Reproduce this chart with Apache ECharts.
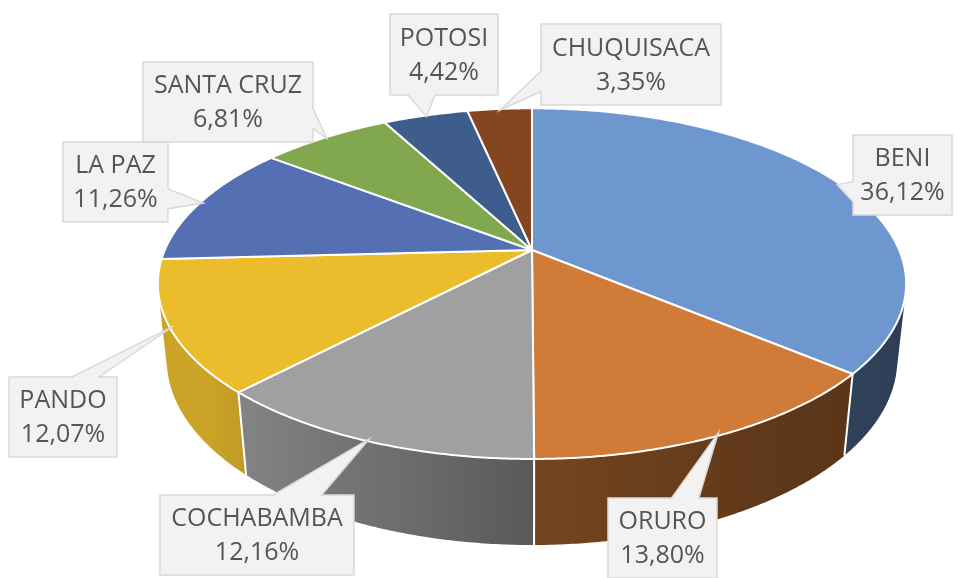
<!DOCTYPE html>
<html><head><meta charset="utf-8">
<script src="https://cdn.jsdelivr.net/npm/echarts@6/dist/echarts.min.js"></script>
<style>html,body{margin:0;padding:0;background:#fff}#c{width:957px;height:578px}</style>
</head><body><div id="c"></div>
<script>
// ---- data ----
const categories = ['BENI', 'ORURO', 'COCHABAMBA', 'PANDO', 'LA PAZ', 'SANTA CRUZ', 'POTOSI', 'CHUQUISACA'];
const values = [36.12, 13.80, 12.16, 12.07, 11.26, 6.81, 4.42, 3.35];
const percentLabels = values.map(v => v.toFixed(2).replace('.', ',') + '%');

// ---- styles / layout ----
const topColors = ['#6E97CF', '#D07B38', '#A0A0A0', '#EBBD2D', '#546FB2', '#82A84F', '#3E5D8C', '#85461F'];
// callout boxes: [left, top, width, height]
const calloutBoxes = [
  [853, 135, 99, 80],
  [608, 498, 109, 80],
  [160, 495, 194, 80],
  [9, 377, 108, 80],
  [63, 142, 105, 80],
  [143, 62, 170, 80],
  [390, 14, 108, 81],
  [541, 24, 180, 81]
];
const view = { cx: 532, cy: 250, f: 1700, D: 4.63, sinA: 0.46, cosA: 0.888, H: 0.2343 };

function proj(theta, r, h) {
  const X = r * Math.sin(theta), Z = r * Math.cos(theta);
  const depth = view.D + Z * view.cosA + h * view.sinA;
  return [view.cx + view.f * X / depth, view.cy - view.f * (Z * view.sinA - h * view.cosA) / depth];
}
const shadeKnots = [[104, 0.40], [150, 0.46], [180, 0.56], [200, 0.70], [230, 0.86], [256, 0.87]];
function shadeAt(deg) {
  if (deg <= shadeKnots[0][0]) return shadeKnots[0][1];
  for (let k = 1; k < shadeKnots.length; k++) {
    if (deg <= shadeKnots[k][0]) {
      const [d0, s0] = shadeKnots[k - 1], [d1, s1] = shadeKnots[k];
      return s0 + (s1 - s0) * (deg - d0) / (d1 - d0);
    }
  }
  return shadeKnots[shadeKnots.length - 1][1];
}
function shade(hex, s) {
  const n = parseInt(hex.slice(1), 16);
  const r = Math.round(((n >> 16) & 255) * s), g = Math.round(((n >> 8) & 255) * s), b = Math.round((n & 255) * s);
  return 'rgb(' + r + ',' + g + ',' + b + ')';
}
function calloutPoints(box, tip) {
  const [l, t, w, h] = box; const r = l + w, b = t + h;
  const hc = l + w / 2, vc = t + h / 2;
  const xPos = tip[0], yPos = tip[1];
  const dxPos = xPos - hc, dyPos = yPos - vc;
  const dq = dxPos * h / w; const dz = Math.abs(dyPos) - Math.abs(dq);
  const x1 = l + w * (dxPos > 0 ? 7 : 2) / 12, x2 = l + w * (dxPos > 0 ? 10 : 5) / 12;
  const y1 = t + h * (dyPos > 0 ? 7 : 2) / 12, y2 = t + h * (dyPos > 0 ? 10 : 5) / 12;
  const xl = dz > 0 ? l : (dxPos > 0 ? l : xPos);
  const xt = dz > 0 ? (dyPos > 0 ? x1 : xPos) : x1;
  const xr = dz > 0 ? r : (dxPos > 0 ? xPos : r);
  const xb = dz > 0 ? (dyPos > 0 ? xPos : x1) : x1;
  const yl = dz > 0 ? y1 : (dxPos > 0 ? y1 : yPos);
  const yt = dz > 0 ? (dyPos > 0 ? t : yPos) : t;
  const yr = dz > 0 ? y1 : (dxPos > 0 ? yPos : y1);
  const yb = dz > 0 ? (dyPos > 0 ? yPos : b) : b;
  return [[l, t], [x1, t], [xt, yt], [x2, t], [r, t], [r, y1], [xr, yr], [r, y2], [r, b], [x2, b], [xb, yb], [x1, b], [l, b], [l, y2], [xl, yl], [l, y1]];
}

const total = values.reduce((s, v) => s + v, 0);
const TWO_PI = Math.PI * 2;
const vMin = Math.acos(-1 / (view.D * view.cosA));
const vMax = TWO_PI - vMin;

function renderItem(params, api) {
  const i = params.dataIndex;
  let acc = 0;
  for (let j = 0; j < i; j++) acc += values[j];
  const a0 = acc / total * TWO_PI;
  const a1 = (acc + api.value(0)) / total * TWO_PI;
  const children = [];
  // top face
  const pts = [proj(0, 0, 0)];
  const n = Math.max(2, Math.ceil((a1 - a0) / (Math.PI / 360)));
  for (let k = 0; k <= n; k++) pts.push(proj(a0 + (a1 - a0) * k / n, 1, 0));
  children.push({ type: 'polygon', z2: 2, shape: { points: pts },
    style: { fill: topColors[i], stroke: '#ffffff', lineWidth: 2, lineJoin: 'round' } });
  // outer wall
  const w0 = Math.max(a0, vMin), w1 = Math.min(a1, vMax);
  if (w1 > w0) {
    const m = Math.max(2, Math.ceil((w1 - w0) / (Math.PI / 360)));
    const tp = [], bp = [];
    for (let k = 0; k <= m; k++) {
      const th = w0 + (w1 - w0) * k / m;
      tp.push(proj(th, 1, 0)); bp.push(proj(th, 1, view.H));
    }
    const xa = tp[0][0], xb = tp[tp.length - 1][0];
    const stops = [];
    const ns = 10;
    for (let k = 0; k <= ns; k++) {
      const th = w0 + (w1 - w0) * k / ns;
      const x = proj(th, 1, 0)[0];
      stops.push({ offset: Math.min(1, Math.max(0, (x - xa) / (xb - xa))), color: shade(topColors[i], shadeAt(th * 180 / Math.PI)) });
    }
    children.push({ type: 'polygon', z2: 1, shape: { points: tp.concat(bp.slice().reverse()) },
      style: { fill: { type: 'linear', x: xa, y: 0, x2: xb, y2: 0, global: true, colorStops: stops } } });
    if (a0 >= vMin && a0 <= vMax) {
      const p = proj(a0, 1, 0), q = proj(a0, 1, view.H);
      children.push({ type: 'line', z2: 1.5, shape: { x1: p[0], y1: p[1], x2: q[0], y2: q[1] },
        style: { stroke: '#ffffff', lineWidth: 2 } });
    }
  }
  // callout label
  const mid = (a0 + a1) / 2;
  const tip = proj(mid, 0.99, 0);
  const box = calloutBoxes[i];
  children.push({ type: 'polygon', z2: 3, shape: { points: calloutPoints(box, tip) },
    style: { fill: '#F2F2F2', stroke: '#D9D9D9', lineWidth: 1.5, lineJoin: 'miter' } });
  children.push({ type: 'text', z2: 4,
    style: { text: categories[i] + '\n' + percentLabels[i], x: box[0] + box[2] / 2, y: box[1] + box[3] / 2 + 1,
      align: 'center', verticalAlign: 'middle', fill: '#555555', fontSize: 25, fontFamily: 'Open Sans', lineHeight: 34 } });
  return { type: 'group', children };
}

const chart = echarts.init(document.getElementById('c'), null, { renderer: 'canvas' });
chart.setOption({
  backgroundColor: '#ffffff',
  animation: false,
  series: [{
    type: 'custom',
    coordinateSystem: 'none',
    silent: true,
    renderItem: renderItem,
    data: values.map((v, i) => ({ name: categories[i], value: [v, i] }))
  }]
});
</script></body></html>
